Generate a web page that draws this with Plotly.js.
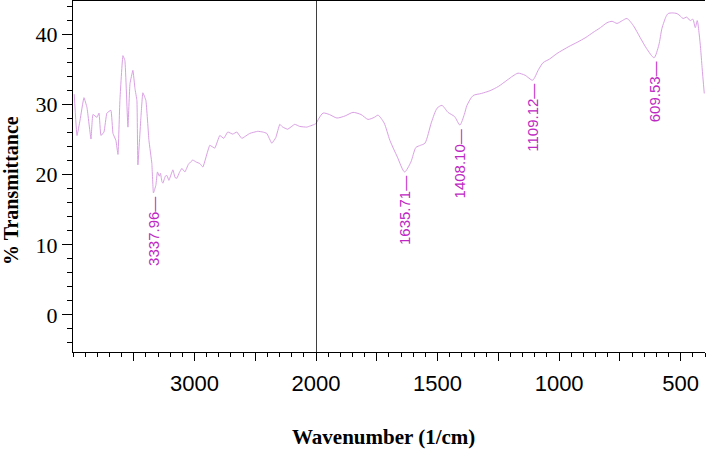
<!DOCTYPE html>
<html>
<head>
<meta charset="utf-8">
<script src="https://cdn.plot.ly/plotly-3.0.1.min.js"></script>
<style>html,body{margin:0;padding:0;background:#fff;}#chart{width:708px;height:452px;}</style>
</head>
<body>
<div id="chart"></div>
<script>
// Wavenumber (1/cm) and % Transmittance
const wavenumber = [
  3990, 3967, 3942, 3910, 3885, 3852, 3836, 3803, 3786, 3770, 3745, 3721, 3688, 3671, 3647, 3630,
  3614, 3589, 3573, 3548, 3531, 3507, 3490, 3474, 3466, 3441, 3425, 3400, 3375, 3351, 3337.96,
  3318, 3305, 3290, 3280, 3268, 3260, 3240, 3227, 3211, 3178, 3160, 3145, 3125, 3104, 3079, 3050,
  3014, 2985, 2956, 2931, 2874, 2833, 2792, 2759, 2726, 2685, 2652, 2611, 2545, 2479, 2438, 2405,
  2364, 2331, 2298, 2274, 2233, 2175, 2134, 2076, 2011, 2000,
  1971, 1945, 1914, 1880, 1848, 1815, 1786, 1760, 1745, 1720, 1696, 1665, 1635.71, 1610, 1589, 1570,
  1552, 1525, 1502, 1482, 1457, 1430, 1408.10, 1390, 1379, 1354, 1320, 1284, 1250, 1214, 1190, 1169,
  1140, 1109.12, 1085, 1066, 1040, 1009, 960, 926, 890, 861, 830, 803, 782, 762, 740, 721, 695, 667,
  640, 609.53, 590, 577, 560, 552, 535, 515, 500, 490, 475, 461, 450, 440, 432, 424, 418, 412, 403
];
const transmittance = [
  31.5, 25.6, 27.8, 31.0, 29.6, 25.1, 28.6, 28.2, 28.8, 25.6, 26.1, 28.8, 29.2, 25.9, 24.9, 22.9,
  30.6, 37.0, 36.3, 26.8, 33.0, 34.9, 32.3, 30.6, 21.4, 28.2, 31.7, 30.6, 24.9, 21.6, 17.4,
  18.5, 20.4, 19.8, 20.2, 19.0, 18.8, 19.8, 19.9, 19.2, 20.7, 19.6, 19.5, 20.3, 20.9, 20.4, 21.5,
  22.1, 21.8, 21.6, 21.1, 24.2, 23.8, 25.6, 25.2, 26.1, 25.8, 26.1, 25.2, 25.9, 26.2, 26.1, 25.9,
  24.5, 25.3, 27.2, 26.8, 26.5, 27.2, 26.9, 26.8, 27.2, 27.3,
  28.8, 28.6, 28.1, 28.4, 28.9, 28.6, 27.9, 28.2, 28.5, 27.4, 24.9, 22.5, 20.4, 21.8, 23.9, 24.2,
  24.5, 27.5, 29.5, 29.9, 28.9, 28.3, 27.1, 28.6, 29.9, 31.3, 31.6, 32.0, 32.6, 33.5, 34.1, 34.5,
  34.2, 33.5, 35.0, 36.0, 36.5, 37.3, 38.3, 38.9, 39.6, 40.3, 41.0, 41.7, 41.9, 41.6, 42.0, 42.3, 41.3, 39.6,
  38.0, 36.7, 38.5, 40.9, 42.6, 43.0, 43.1, 43.0, 42.6, 42.3, 42.5, 42.0, 42.2, 41.0, 42.0, 40.1, 38.0, 35.3, 31.6
];

// Peak labels
const peakWn = [3337.96, 1635.71, 1408.10, 1109.12, 609.53];
const peakT = [17.4, 20.4, 27.1, 33.5, 36.7];
const peakLabels = ['3337.96', '1635.71', '1408.10', '1109.12', '609.53'];

// Axis ticks
const leftTickVals = [3500, 3000, 2500];
const leftTickText = ['', '3000', ''];
const rightTickVals = [2000, 1750, 1500, 1250, 1000, 750, 500];
const rightTickText = ['2000', '', '1500', '', '1000', '', '500'];

const BREAK = 2000;
const lx = [], ly = [], rx = [], ry = [];
wavenumber.forEach((w, i) => {
  if (w >= BREAK) { lx.push(w); ly.push(transmittance[i]); }
  if (w <= BREAK) { rx.push(w); ry.push(transmittance[i]); }
});

const traces = [
  {x: lx, y: ly, xaxis: 'x', yaxis: 'y', type: 'scatter', mode: 'lines',
   line: {color: 'rgb(218,160,228)', width: 1, shape: 'spline', smoothing: 0.3}, hoverinfo: 'skip'},
  {x: rx, y: ry, xaxis: 'x2', yaxis: 'y', type: 'scatter', mode: 'lines',
   line: {color: 'rgb(218,160,228)', width: 1, shape: 'spline', smoothing: 0.7}, hoverinfo: 'skip'}
];

const split = 0.3845;
const xCommon = {
  ticks: 'outside', ticklen: 8, tickwidth: 1, tickcolor: '#000',
  showline: true, linecolor: '#000', linewidth: 1, mirror: true,
  showgrid: false, zeroline: false, tickmode: 'array',
  tickfont: {family: 'Liberation Sans, Arial, sans-serif', size: 22, color: '#000'},
  ticklabelstandoff: 4, anchor: 'y'
};

const annotations = peakWn.map((w, i) => ({
  x: w, y: peakT[i], xref: w >= BREAK ? 'x' : 'x2', yref: 'y',
  text: peakLabels[i] + '—', textangle: -90, showarrow: false,
  xanchor: 'center', yanchor: 'top', yshift: -2,
  font: {family: 'Liberation Sans, Arial, sans-serif', size: 15, color: 'rgb(190,40,195)'}
}));
annotations.push({
  xref: 'paper', yref: 'paper', x: (11 - 73) / 632, y: (352 - 191) / 351,
  text: '<b>% Transmittance</b>', textangle: -90, showarrow: false,
  xanchor: 'center', yanchor: 'middle',
  font: {family: 'Liberation Serif, Times New Roman, serif', size: 20, color: '#000'}
});
annotations.push({
  xref: 'paper', yref: 'paper', x: (383 - 73) / 632, y: (352 - 437) / 351,
  text: '<b>Wavenumber (1/cm)</b>', showarrow: false,
  xanchor: 'center', yanchor: 'middle',
  font: {family: 'Liberation Serif, Times New Roman, serif', size: 21, color: '#000'}
});

const layout = {
  width: 708, height: 452,
  margin: {l: 73, r: 3, t: 1, b: 100},
  paper_bgcolor: '#fff', plot_bgcolor: '#fff',
  showlegend: false,
  xaxis: Object.assign({}, xCommon, {
    domain: [0, split], range: [4000, 2000],
    tickvals: leftTickVals, ticktext: leftTickText,
    minor: {tickmode: 'linear', tick0: 0, dtick: 100, ticks: 'outside', ticklen: 4, tickcolor: '#000', showgrid: false}
  }),
  xaxis2: Object.assign({}, xCommon, {
    domain: [split, 1], range: [2000, 400],
    tickvals: rightTickVals, ticktext: rightTickText,
    minor: {tickmode: 'linear', tick0: 0, dtick: 50, ticks: 'outside', ticklen: 4, tickcolor: '#000', showgrid: false}
  }),
  yaxis: {
    anchor: 'x', range: [-5.3, 44.8], tickmode: 'linear', tick0: 0, dtick: 10,
    ticks: 'outside', ticklen: 10, tickwidth: 1, tickcolor: '#000',
    showline: true, linecolor: '#000', linewidth: 1,
    showgrid: false, zeroline: false,
    tickfont: {family: 'Liberation Serif, Times New Roman, serif', size: 22, color: '#000'},
    minor: {tickmode: 'linear', tick0: 0, dtick: 2, ticks: 'outside', ticklen: 5, tickcolor: '#000', showgrid: false}
  },
  yaxis2: {
    anchor: 'x2', overlaying: 'y', side: 'right', range: [-5.3, 44.8],
    tickmode: 'linear', tick0: 0, dtick: 10, ticks: 'outside', ticklen: 4, tickcolor: '#000',
    showticklabels: false, showline: true, linecolor: '#000', linewidth: 1,
    showgrid: false, zeroline: false
  },
  shapes: [{
    type: 'line', xref: 'x2', yref: 'paper', x0: BREAK, x1: BREAK, y0: 0, y1: 1,
    line: {color: '#000', width: 1.5}
  }],
  annotations: annotations
};

Plotly.newPlot('chart', traces, layout, {staticPlot: true, displayModeBar: false});
</script>
</body>
</html>
